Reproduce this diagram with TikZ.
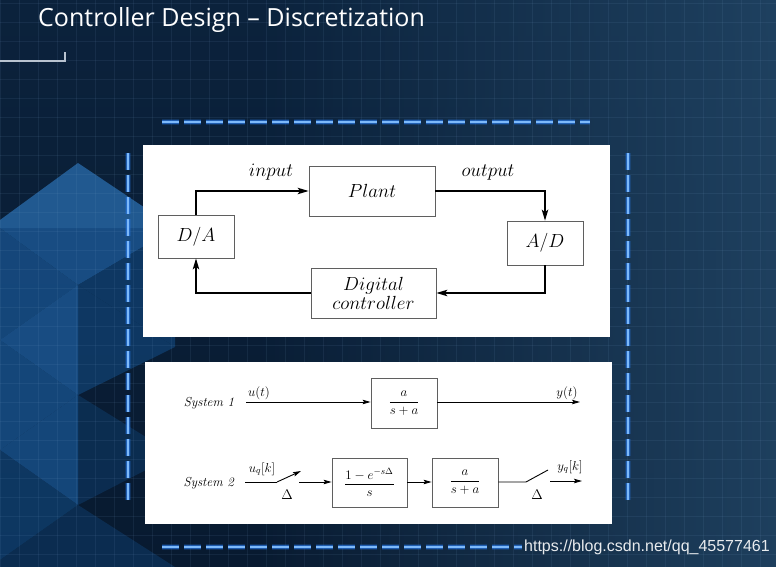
\RequirePackage{fix-cm}
\documentclass[tikz,border=0pt]{standalone}
\usepackage{amsmath}
\usepackage{fontspec}
\newfontfamily\titlefont{Open Sans}
\newfontfamily\wmfont{Liberation Sans}
\usetikzlibrary{arrows.meta,fadings}
\tikzfading[name=fadeleft, left color=transparent!100, right color=transparent!0]
\definecolor{bgtop}{RGB}{11,34,60}
\definecolor{bgbot}{RGB}{8,26,48}
\definecolor{bgright}{RGB}{34,70,102}
\definecolor{fa}{RGB}{38,100,160}
\definecolor{fb}{RGB}{27,85,144}
\definecolor{fc}{RGB}{23,78,134}
\definecolor{fd}{RGB}{15,60,106}
\definecolor{fe}{RGB}{12,48,86}
\definecolor{gridc}{RGB}{120,160,200}
\definecolor{glowc}{RGB}{40,120,230}
\definecolor{dashc}{RGB}{125,185,250}
\definecolor{boxc}{RGB}{95,95,95}
\definecolor{titleline}{RGB}{185,195,208}
\begin{document}
\begin{tikzpicture}[x=1pt,y=-1pt,
  box/.style={draw=boxc, line width=0.8pt, fill=white, inner sep=0pt},
  bigarr/.style={line width=1.3pt, -{Stealth[length=11pt,width=6.5pt,inset=2.5pt]}},
  smallarr/.style={line width=0.9pt, -{Stealth[length=8pt,width=4.5pt,inset=1.5pt]}},
  smallline/.style={line width=0.9pt},
  topfont/.style={font=\fontsize{19}{19}\selectfont},
  botfont/.style={font=\fontsize{13}{15}\selectfont},
  glow/.style={line width=6pt, color=glowc, opacity=0.22, dash pattern=on 17pt off 5pt},
  glowmid/.style={line width=3.4pt, color=glowc, opacity=0.6, dash pattern=on 17pt off 5pt},
  dashcore/.style={line width=1.3pt, color=dashc, dash pattern=on 17pt off 5pt},
]
\useasboundingbox (0,0) rectangle (776,567);
% background
\shade[top color=bgtop, bottom color=bgbot] (0,0) rectangle (776,567);
\fill[bgright, path fading=fadeleft, opacity=0.85] (250,0) rectangle (776,567);
% decorative facets on the left
\fill[fa, opacity=0.85] (78,163) -- (175,228) -- (0,228) -- (0,220) -- cycle;
\fill[fb, opacity=0.85] (0,228) -- (175,228) -- (78,285) -- cycle;
\fill[fc, opacity=0.85] (0,228) -- (78,285) -- (0,340) -- cycle;
\fill[fd, opacity=0.85] (78,285) -- (175,228) -- (175,347) -- cycle;
\fill[fd, opacity=0.85] (78,285) -- (175,347) -- (78,395) -- cycle;
\fill[fb, opacity=0.85] (0,340) -- (78,285) -- (78,395) -- cycle;
\fill[fc, opacity=0.85] (0,340) -- (78,395) -- (0,450) -- cycle;
\fill[fe, opacity=0.85] (78,395) -- (175,455) -- (78,505) -- cycle;
\fill[fc, opacity=0.85] (0,450) -- (78,395) -- (78,505) -- cycle;
\fill[fd, opacity=0.85] (0,450) -- (78,505) -- (0,560) -- cycle;
\fill[fe, opacity=0.85] (0,560) -- (78,505) -- (175,567) -- (0,567) -- cycle;
% grid
\foreach \x in {0,19,...,776} \draw[gridc, line width=0.5pt, opacity=0.10] (\x,0) -- (\x,567);
\foreach \y in {3,22,...,567} \draw[gridc, line width=0.5pt, opacity=0.10] (0,\y) -- (776,\y);
% title
\node[anchor=base west, text=white, inner sep=0pt, font=\titlefont\fontsize{25}{28}\selectfont] (title) at (38,27) {Controller Design – Discretization};
\draw[titleline, line width=1.5pt] (0,61) -- (65,61) -- (65,52);
% glowing dashed frame
\foreach \s in {glow,glowmid,dashcore}{
  \draw[\s] (162,122) -- (590,122);
  \draw[\s] (162,547) -- (522,547);
  \draw[\s] (128,153) -- (128,504);
  \draw[\s] (628,153) -- (628,504);
}
% white panels
\fill[white] (143,145) rectangle (610,337);
\fill[white] (145,362) rectangle (612,524);
% ---------- top diagram ----------
\node[box, topfont, minimum width=126pt, minimum height=50pt] (plant) at (372,191) {$Plant$};
\node[box, topfont, minimum width=76pt, minimum height=43pt] (da) at (196,236.5) {$D/A$};
\node[box, topfont, minimum width=76pt, minimum height=44pt] (ad) at (545,243) {$A/D$};
\node[box, topfont, minimum width=125pt, minimum height=50pt, align=center] (dc) at (373.5,293) {$Digital$\\$controller$};
\draw[bigarr] (da.north) |- (plant.west);
\draw[bigarr] (plant.east) -| (ad.north);
\draw[bigarr] (ad.south) |- (dc.east);
\draw[bigarr] (dc.west) -| (da.south);
\node[topfont, anchor=base] (lin) at (271,176) {$input$};
\node[topfont, anchor=base] (lout) at (488,176) {$output$};
% ---------- bottom diagram ----------
\node[botfont] (sys1) at (209,403) {\textit{System 1}};
\node[botfont] (sys2) at (209,483) {\textit{System 2}};
\node[box, botfont, minimum width=66pt, minimum height=50pt] (g1) at (404,403) {$\dfrac{a}{s+a}$};
\coordinate (u1) at (246,402);
\coordinate (y1) at (580,402);
\draw[smallarr] (u1) -- (g1.west |- u1);
\draw[smallarr] (g1.east |- y1) -- (y1);
\node[botfont, anchor=base] (lu) at (259,396) {$u(t)$};
\node[botfont, anchor=base] (ly) at (567,396) {$y(t)$};
% system 2
\node[box, botfont, minimum width=75pt, minimum height=49pt] (zoh) at (369.5,482.5) {$\dfrac{1-e^{-s\Delta}}{s}$};
\node[box, botfont, minimum width=66pt, minimum height=49pt] (g2) at (465,482.5) {$\dfrac{a}{s+a}$};
\coordinate (u2) at (245,482);
\coordinate (sw1a) at (277,482);
\coordinate (sw1b) at (301,471);
\coordinate (sw1c) at (299,482);
\coordinate (sw2a) at (526,482);
\coordinate (sw2b) at (548,470);
\coordinate (y2a) at (550,481);
\coordinate (y2b) at (582,481);
\draw[smallline] (u2) -- (sw1a);
\draw[smallarr] (sw1a) -- (sw1b);
\draw[smallarr] (sw1c) -- (zoh.west |- sw1c);
\draw[smallarr] (zoh.east |- sw1c) -- (g2.west |- sw1c);
\draw[smallline] (g2.east |- sw2a) -- (sw2a) -- (sw2b);
\draw[smallarr] (y2a) -- (y2b);
\node[botfont, anchor=base] (luq) at (262,472) {$u_q[k]$};
\node[botfont, anchor=base] (lyq) at (570,470) {$y_q[k]$};
\node[font=\fontsize{14}{16}\selectfont] (d1) at (287,495) {$\Delta$};
\node[font=\fontsize{14}{16}\selectfont] (d2) at (537,495) {$\Delta$};
% watermark
\node[anchor=west, inner sep=0pt, text=white, opacity=0.9, font=\wmfont\fontsize{16}{18}\selectfont] (wm) at (524,547) {https://blog.csdn.net/qq\_45577461};
\end{tikzpicture}
\end{document}
